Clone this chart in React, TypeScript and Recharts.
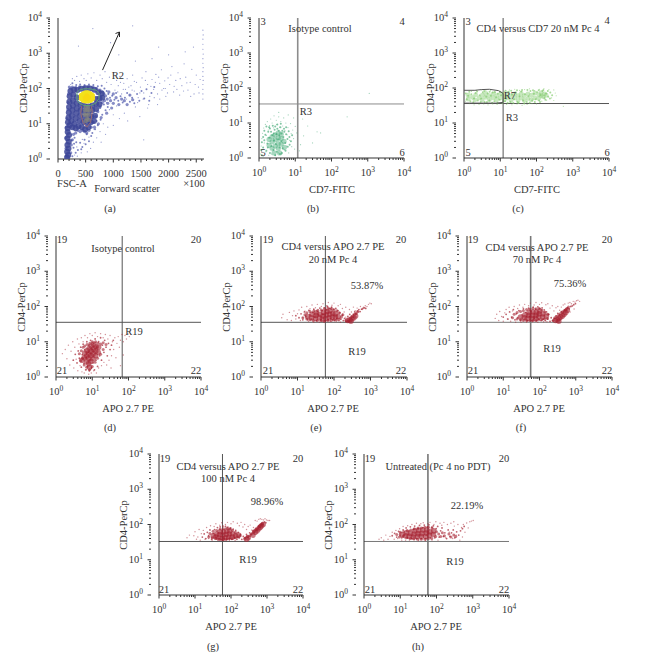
import { ScatterChart, Scatter, XAxis, YAxis, ReferenceLine } from 'recharts';

type Pair = [number, number];
const pts = (list: Pair[]) => list.map(([x, y]) => ({ x, y }));

const LOG_TICKS = [
  1, 2, 3, 4, 5, 6, 7, 8, 9, 10, 20, 30, 40, 50, 60, 70, 80, 90, 100, 200, 300, 400, 500, 600, 700, 800, 900,
  1000, 2000, 3000, 4000, 5000, 6000, 7000, 8000, 9000, 10000,
];
const FSC_TICKS = [0, 100, 200, 300, 400, 500, 600, 700, 800, 900, 1000, 1100, 1200, 1300, 1400, 1500, 1600, 1700, 1800, 1900, 2000, 2100, 2200, 2300, 2400, 2500, 2600];
const FSC_LABELS = [0, 500, 1000, 1500, 2000, 2500];

// (a) forward scatter
const fscLight: Pair[] = [
  [230, 130], [260, 190], [300, 170], [340, 220], [390, 160], [420, 240], [470, 190], [510, 170], [540, 260], [600, 200], [650, 280], [700, 170], [760, 240], [800, 190], [850, 300], [880, 150], [930, 210], [960, 130], [1000, 260], [1030, 90], [1060, 170], [1090, 120], [1120, 220], [1150, 70], [1190, 140], [1220, 95], [1250, 190], [1290, 65], [1320, 120], [1350, 240], [1380, 85], [1420, 150], [1450, 55], [1490, 110], [1520, 200], [1550, 75], [1590, 300], [1620, 130], [1660, 60], [1700, 180], [1730, 95], [1770, 250], [1800, 70], [1840, 140], [1870, 340], [1910, 100], [1950, 60], [1990, 200], [2020, 130], [2060, 420], [2090, 80], [2130, 170], [2170, 280], [2200, 65], [2240, 120], [2280, 500], [2310, 210], [2350, 90], [2390, 150], [2420, 350], [2460, 70], [2500, 240], [2540, 110], [2570, 180],
  [1760, 150], [1820, 210], [1880, 90], [1930, 165], [1980, 75], [2040, 240], [2100, 115], [2150, 95], [2210, 190], [2270, 85], [2330, 145], [2400, 60], [2480, 130], [2550, 75], [1680, 115], [1580, 170], [1480, 75], [1380, 160], [1280, 110], [1180, 95], [1080, 80], [1130, 150], [1240, 50], [1340, 90], [1440, 40], [1540, 50], [1640, 35], [1740, 55], [1840, 50], [1940, 100],
  [2620, 50], [2620, 70], [2620, 95], [2620, 130], [2625, 170], [2620, 220], [2620, 300], [2625, 390], [2620, 520], [2620, 700], [2625, 950], [2620, 1300], [2620, 1800], [2620, 2500], [2625, 3300], [2620, 4500],
  [1700, 700], [1400, 600], [1100, 900], [2000, 900], [2300, 1100], [370, 1600], [630, 5000], [1350, 6000], [1820, 1500], [950, 2000], [2450, 1500],
  [880, 40], [930, 25], [1000, 18], [1060, 32], [1110, 14], [820, 10], [900, 8], [760, 6], [700, 4], [640, 3], [590, 2], [530, 1.6], [470, 2.8], [420, 1.5], [780, 3], [860, 5], [1000, 9], [1200, 20], [1260, 12], [1400, 30], [1480, 16], [1620, 28], [350, 1.2], [560, 4.2], [300, 1.3], [1550, 3.5], [1800, 35], [440, 3.6], [650, 7], [340, 2.2],
];
const fscMid: Pair[] = [
  [260, 140], [330, 125], [400, 130], [480, 125], [560, 130], [640, 125], [720, 115], [790, 120], [840, 100], [880, 85], [910, 70], [940, 55], [980, 62], [1020, 48], [1050, 75], [1090, 45], [1130, 60], [1170, 40], [1210, 55], [1250, 75], [1300, 42], [1340, 55], [1380, 38], [1430, 70], [1470, 45], [1510, 85], [1560, 52], [1600, 95], [1650, 45], [1690, 75], [1740, 110],
  [830, 35], [860, 24], [800, 18], [770, 13], [720, 9], [670, 7], [620, 5.5], [560, 3.2], [500, 2.6], [440, 2.2], [400, 2.9], [360, 1.8], [320, 1.5], [280, 2.1], [260, 1.2], [700, 12], [760, 28], [900, 30], [600, 4.5], [480, 3.5], [520, 5], [330, 3], [300, 4], [290, 2.7], [420, 1.9], [250, 3.4],
];
const fscFringe: Pair[] = [
  [760, 90], [800, 80], [830, 70], [860, 62], [890, 50], [840, 45], [800, 40], [760, 30], [720, 22], [680, 16], [640, 11], [600, 8], [560, 6.5], [520, 5.5], [480, 6], [440, 6.5], [400, 6], [360, 6.5], [320, 5.5], [280, 5], [260, 3.5], [240, 2.5], [230, 1.5], [950, 45], [1000, 38], [1050, 55], [1100, 35], [1000, 70], [920, 80], [1150, 50], [1200, 45], [1250, 35], [900, 38], [1300, 65], [1350, 48], [230, 100], [260, 110], [320, 108], [390, 112], [470, 112], [550, 115], [630, 110], [700, 100], [205, 110], [190, 70], [185, 40], [180, 25], [160, 14], [150, 8], [145, 4], [145, 2], [145, 1.2], [970, 28], [880, 20], [780, 15], [730, 10], [660, 8],
];
const fscBlue: Pair[] = [
  [165, 1.1], [185, 1.3], [165, 1.6], [190, 2], [170, 2.5], [195, 3.1], [170, 3.9], [200, 4.8], [175, 5.8], [175, 7.5], [210, 9], [260, 8], [320, 7.5], [180, 11], [240, 12], [300, 10], [370, 8.5], [430, 8], [490, 7], [550, 8], [190, 15], [250, 17], [320, 14], [390, 12], [460, 11], [530, 11], [590, 11], [650, 12], [195, 21], [260, 24], [330, 20], [400, 17], [470, 15], [540, 15], [600, 16], [670, 17], [200, 30], [270, 33], [340, 27], [410, 24], [480, 22], [550, 22], [620, 24], [690, 26], [205, 42], [270, 46], [340, 38], [410, 34], [480, 32], [550, 31], [620, 33], [690, 37], [750, 36], [210, 60], [275, 66], [340, 56], [690, 50], [750, 52], [800, 55], [225, 85], [290, 92], [350, 90], [420, 98], [500, 102], [580, 100], [660, 92], [730, 78], [790, 72],
];
const fscGate: Pair[] = [
  [340, 60], [345, 78], [385, 90], [470, 98], [580, 98], [690, 90], [745, 72], [740, 52], [680, 38], [590, 33], [470, 33], [385, 38], [345, 48], [340, 60],
];
const fscGrey: Pair[] = [
  [505, 30], [545, 30], [490, 24], [530, 24], [565, 24], [510, 18], [550, 18], [480, 18], [525, 14], [500, 12], [550, 13],
];
const fscGate2: Pair[] = [[430, 32], [410, 20], [450, 11], [520, 8], [590, 11], [620, 22], [600, 32]];
const fscYellow: Pair[] = [
  [430, 52], [430, 62], [465, 47], [465, 57], [465, 69], [500, 46], [500, 55], [500, 65], [500, 73], [540, 46], [540, 55], [540, 65], [540, 73], [580, 47], [580, 58], [580, 69], [615, 52], [615, 62],
];
const fscOrange: Pair[] = [[490, 54], [520, 50], [520, 62], [550, 56]];

// (b) isotype control, CD7
const cd7LightB: Pair[] = [
  [1.1, 1.3], [1.15, 2.2], [1.2, 3.6], [1.25, 5.1], [1.3, 1.1], [1.35, 7.2], [1.4, 2.7], [1.5, 9.1], [1.55, 1.5], [1.6, 4.4], [1.7, 11], [1.8, 6.3], [1.85, 1.2], [1.95, 8.4], [2.1, 13], [2.2, 1.3], [2.3, 10], [2.5, 7.3], [2.6, 16], [2.8, 1.2], [3, 12], [3.1, 9], [3.4, 1.4], [3.5, 15], [3.7, 7.6], [4, 11], [4.2, 1.3], [4.5, 8.2], [4.8, 14], [5, 1.7], [5.2, 6.1], [5.5, 10], [5.8, 2.2], [6, 4.6], [6.3, 7.4], [6.6, 1.4], [7, 3.2], [7.4, 9.6], [7.7, 5], [8, 2.1], [8.5, 6.3], [9, 3.6], [9.6, 1.8], [10, 8], [11, 5.2], [14, 2.4], [17, 4.3], [22, 8.2], [40, 5.6], [50, 5.2], [270, 15], [1100, 70], [16, 13], [9, 14], [6.4, 17], [3.5, 20], [30, 2.7], [13, 1.6],
];
const cd7MidB: Pair[] = [
  [1.3, 2], [1.4, 3.2], [1.5, 4.6], [1.6, 1.6], [1.7, 2.6], [1.8, 5.6], [1.9, 3.8], [2, 1.4], [2, 7], [2.2, 2.2], [2.3, 4.5], [2.4, 8.3], [2.5, 1.7], [2.6, 3.2], [2.7, 6.4], [2.9, 2.5], [3, 4.8], [3.1, 1.5], [3.2, 9], [3.4, 3.4], [3.5, 6], [3.7, 2], [3.9, 7.6], [4.1, 3], [4.2, 5], [4.5, 1.9], [4.7, 4], [4.9, 6.8], [5.3, 2.7], [5.6, 4.8], [6.1, 3.5], [6.6, 5.8], [7, 2.4], [1.2, 1.2], [2.8, 1.2], [3.8, 1.3],
  [1.15, 1.7], [1.2, 2.8], [1.3, 4], [1.4, 6], [1.6, 8], [1.75, 2], [1.9, 7.5], [2.15, 5.6], [2.55, 5], [2.8, 8], [3.2, 6.8], [3.6, 4.4], [4, 9.5], [4.4, 6], [5, 5.6], [5.6, 7.6], [6.2, 2.1], [6.9, 4], [7.6, 3], [8.2, 4.5], [5.4, 1.6], [4.3, 1.4],
];
const cd7CoreB: Pair[] = [
  [1.9, 2.3], [1.9, 3.4], [2.3, 1.9], [2.3, 2.9], [2.3, 4.1], [2.8, 2.2], [2.8, 3.3], [2.8, 4.6], [3.4, 1.9], [3.4, 2.6], [3.4, 3.7], [3.4, 5.2], [4.1, 2.5], [4.1, 3.6], [4.1, 4.8], [4.9, 3], [5, 2], [2.6, 1.4], [3.7, 1.4],
];

// (c) CD4 versus CD7
const cd7LightC: Pair[] = [
  [1.1, 42], [1.2, 72], [1.4, 36], [1.6, 80], [1.9, 33], [2.2, 85], [2.6, 34], [3, 88], [3.5, 35], [4, 84], [4.6, 33], [5.4, 86], [6.2, 35], [7, 80], [8.2, 34], [9.5, 76], [11, 38], [13, 80], [15, 34], [18, 88], [21, 33], [25, 92], [29, 35], [34, 86], [40, 32], [47, 90], [55, 34], [64, 95], [75, 36], [88, 84], [100, 35], [120, 92], [140, 42], [160, 96], [190, 45], [220, 90], [260, 52], [300, 88], [330, 72], [350, 60], [550, 30], [300, 44],
];
const cd7MidC: Pair[] = [
  [1.2, 48], [1.3, 60], [1.5, 42], [1.6, 66], [1.9, 50], [2.1, 72], [2.4, 44], [2.7, 62], [3, 50], [3.3, 75], [3.7, 40], [4.1, 56], [4.5, 70], [5, 44], [5.5, 60], [6.2, 74], [6.9, 42], [7.7, 54], [8.6, 68], [9.6, 46], [10.6, 62], [12, 72], [13.5, 42], [15, 56], [17, 78], [19, 40], [21, 64], [24, 48], [27, 74], [30, 40], [34, 58], [38, 80], [43, 44], [48, 66], [54, 40], [60, 58], [68, 82], [76, 44], [85, 68], [95, 48], [105, 76], [118, 44], [130, 62], [145, 82], [165, 52], [185, 70], [210, 56], [240, 74], [270, 62],
  [1.1, 70], [1.4, 78], [1.8, 39], [2.3, 80], [2.9, 40], [3.6, 82], [4.3, 40], [5.1, 78], [6, 38], [7.2, 76], [8.4, 38], [10, 78], [11.5, 38], [14, 84], [16, 38], [20, 84], [23, 37], [29, 86], [32, 37], [40, 88], [46, 36], [56, 88], [65, 38], [80, 86], [90, 40], [115, 86], [125, 40], [155, 88], [175, 46], [205, 82], [235, 50],
];
const cd7CoreC: Pair[] = [
  [1.3, 48], [1.3, 62], [1.7, 54], [2, 46], [2.1, 64], [2.6, 52], [3.2, 46], [3.2, 62], [4, 54], [4, 70], [5, 46], [5.1, 60], [6.4, 52], [6.4, 68], [8, 46], [8, 60], [10, 52], [10.4, 68], [13, 46], [13, 60], [16, 52], [16, 70], [20, 44], [20, 60], [25, 52], [25, 68], [31, 44], [31, 60], [38, 52], [38, 70], [46, 44], [46, 60], [58, 50], [58, 68], [72, 46], [72, 62], [90, 52], [90, 72], [115, 50], [115, 64], [135, 60], [135, 74], [155, 56], [165, 68], [185, 62],
];
const r7Gate: Pair[] = [
  [1, 37], [3, 37], [8, 37], [12, 39], [12, 70], [9, 84], [5, 92], [3, 90], [2, 86], [1, 86],
];

// (d) isotype control, APO 2.7
const apoLightD: Pair[] = [
  [1.5, 4.6], [1.8, 6], [2, 3.3], [2.2, 8], [2.4, 2.2], [2.6, 5.4], [2.9, 10], [3.1, 1.8], [3.3, 7], [3.6, 3.2], [3.9, 12], [4, 1.5], [4.3, 8.7], [4.6, 2.1], [5, 13], [5.2, 1.4], [5.6, 10], [6, 1.3], [6.3, 15], [6.9, 1.6], [7.4, 13], [8, 1.2], [8.6, 17], [9.4, 1.3], [10, 15], [11, 1.5], [12, 18], [13, 1.3], [14, 14], [15, 1.8], [17, 17], [18, 2.1], [20, 13], [21, 2.6], [23, 16], [25, 2.2], [27, 12], [29, 3], [31, 15], [34, 4], [36, 10], [39, 6], [42, 13], [45, 3.5], [48, 9], [52, 14], [56, 7], [60, 11], [66, 16], [72, 10], [80, 15], [88, 12], [96, 17], [105, 14], [60, 2.1], [33, 1.8], [72, 4.2], [110, 20],
];
const apoMidD: Pair[] = [
  [3, 3], [3.4, 4.4], [3.8, 2.5], [4.1, 5.5], [4.4, 3.4], [4.8, 7], [5, 1.9], [5.3, 4.3], [5.6, 8.5], [5.9, 2.4], [6.2, 6], [6.6, 1.6], [6.8, 3.6], [7.1, 10], [7.4, 2], [7.7, 5], [8, 8], [8.3, 1.5], [8.7, 3], [9, 11], [9.5, 1.8], [10, 6], [10.5, 2.5], [11, 9], [11.5, 1.6], [12, 12], [12.7, 3], [13.4, 7], [14, 2], [15, 10], [16, 4], [17, 13], [18, 3], [19, 8], [21, 5], [22, 11], [24, 7], [26, 4], [28, 9], [31, 6], [34, 8], [38, 11],
];
const apoEdgeD: Pair[] = [
  [4.4, 4.6], [4.8, 2.9], [5, 5.6], [5.4, 3.4], [5.6, 7], [6, 2.2], [6.2, 7.6], [7, 1.9], [7.2, 8.4], [8.4, 1.6], [8.6, 9], [10, 2], [10, 10], [12, 2.6], [12.4, 10], [14, 3.4], [14.4, 9], [17, 4.4], [17, 8.6], [20, 6], [20, 9.4], [24, 8.4],
];
const apoCoreD: Pair[] = [
  [6, 3.5], [6.2, 4.8], [7, 2.7], [7, 3.9], [7.2, 5.6], [8, 2.4], [8, 3.4], [8, 4.6], [8.2, 6.4], [9.2, 2.8], [9.2, 4], [9.2, 5.4], [9.4, 7.5], [10.6, 3.3], [10.6, 4.6], [10.8, 6.2], [11, 8.4], [12.4, 4], [12.4, 5.5], [12.8, 7.2], [14.6, 5], [15, 7], [8.4, 1.9], [5.2, 3],
];

// (e) 20 nM
const apoLightE: Pair[] = [
  [3.7, 48], [4, 60], [5.2, 42], [6, 68], [6.8, 40], [7.3, 55], [8, 75], [9, 44], [10, 62], [11, 80], [12, 40], [13, 95], [14, 48], [16, 74], [18, 100], [20, 38], [22, 86], [25, 110], [28, 36], [31, 92], [35, 115], [40, 36], [45, 100], [50, 120], [56, 37], [63, 105], [70, 130], [78, 38], [88, 108], [100, 125], [115, 38], [130, 105], [150, 115], [170, 88], [190, 70], [210, 95], [235, 38], [265, 82], [300, 70], [340, 96], [380, 76], [430, 90], [480, 70], [530, 100], [590, 82], [650, 95], [720, 105], [800, 100], [880, 115], [960, 125], [1050, 120], [150, 36], [210, 50], [170, 60],
];
const apoMidE: Pair[] = [
  [9, 55], [11, 48], [12.5, 62], [14, 42], [15.5, 70], [17, 52], [19, 42], [20.5, 78], [22, 58], [24, 44], [26, 68], [28, 84], [30, 50], [33, 40], [35, 72], [38, 58], [41, 90], [44, 42], [47, 76], [50, 60], [54, 92], [58, 40], [62, 80], [66, 100], [70, 42], [75, 88], [80, 46], [86, 96], [92, 42], [98, 84], [105, 40], [112, 88], [120, 46], [128, 76], [136, 40], [145, 66], [155, 44], [168, 56], [180, 40], [195, 46], [215, 38], [240, 52], [270, 60], [300, 54], [335, 60], [370, 70], [405, 62], [440, 74], [480, 82], [520, 72], [570, 84], [620, 88], [680, 92], [740, 88],
];
const apoEdgeE: Pair[] = [
  [14, 48], [16, 58], [18, 44], [18, 66], [22, 42], [22, 72], [27, 40], [28, 74], [35, 40], [36, 78], [44, 40], [45, 80], [54, 38], [55, 86], [68, 40], [68, 90], [84, 40], [85, 88], [100, 42], [100, 80], [118, 42], [120, 76], [140, 44], [140, 66], [160, 50], [175, 58], [215, 40], [250, 38], [285, 48], [330, 52], [370, 60], [410, 64], [450, 72],
];
const apoCoreE: Pair[] = [
  [19, 52], [24, 48], [25, 60], [31, 46], [32, 56], [33, 66], [40, 48], [41, 60], [48, 44], [50, 54], [52, 68], [60, 46], [62, 58], [64, 72], [74, 48], [76, 60], [78, 76], [90, 50], [92, 64], [108, 50], [110, 62], [130, 52], [235, 40], [270, 42], [310, 44], [350, 48], [390, 54], [290, 38],
];

// (f) 70 nM
const apoLightF: Pair[] = [
  [6, 46], [6.6, 60], [7.5, 40], [8, 72], [9, 52], [10, 38], [11, 66], [12, 82], [13, 44], [14.5, 95], [16, 38], [18, 75], [20, 100], [22, 36], [25, 88], [28, 110], [31, 36], [35, 95], [39, 115], [44, 36], [50, 105], [56, 125], [63, 37], [71, 110], [80, 130], [90, 36], [100, 115], [115, 128], [130, 37], [150, 112], [170, 120], [195, 90], [225, 105], [250, 75], [285, 92], [320, 100], [360, 78], [400, 96], [450, 110], [500, 118], [560, 85], [620, 125], [690, 130], [760, 120], [850, 140], [950, 135], [1050, 145], [1150, 150], [1280, 140], [700, 70], [900, 85], [160, 37],
];
const apoMidF: Pair[] = [
  [10, 50], [12, 60], [13.5, 44], [15, 70], [17, 50], [19, 82], [21, 42], [23, 62], [25, 48], [27, 76], [30, 40], [33, 58], [36, 86], [39, 44], [42, 68], [46, 40], [50, 90], [54, 52], [58, 74], [62, 40], [67, 96], [72, 46], [78, 84], [84, 40], [90, 98], [96, 44], [103, 88], [110, 40], [118, 92], [126, 44], [135, 80], [145, 40], [156, 70], [168, 44], [180, 60], [195, 38], [210, 48], [230, 40], [255, 46], [285, 54], [320, 64], [360, 58], [400, 72], [440, 64], [490, 80], [540, 76], [600, 92], [660, 86], [730, 100], [800, 104], [880, 112], [980, 120],
];
const apoEdgeF: Pair[] = [
  [18, 48], [20, 60], [24, 44], [24, 68], [30, 42], [30, 72], [36, 40], [36, 76], [44, 40], [44, 82], [54, 40], [54, 84], [66, 40], [66, 88], [80, 40], [80, 86], [96, 42], [96, 88], [116, 42], [116, 80], [138, 44], [140, 70], [165, 46], [170, 60], [240, 40], [265, 48], [300, 52], [340, 58], [385, 64], [430, 70], [470, 74], [520, 80], [570, 88], [630, 96],
];
const apoCoreF: Pair[] = [
  [30, 50], [38, 48], [40, 58], [48, 46], [50, 56], [52, 68], [62, 46], [64, 56], [66, 70], [78, 46], [80, 56], [82, 68], [96, 50], [98, 62], [100, 74], [122, 50], [125, 62], [155, 54], [275, 40], [310, 42], [345, 46], [385, 50], [430, 54], [475, 60], [530, 68], [585, 78], [340, 38],
];

// (g) 100 nM
const apoLightG: Pair[] = [
  [6, 42], [7, 50], [9.3, 48], [10, 62], [11, 38], [12, 44], [13, 72], [14, 36], [15, 55], [17, 68], [19, 38], [21, 82], [24, 40], [27, 92], [30, 36], [34, 88], [38, 105], [43, 36], [49, 95], [55, 112], [62, 35], [70, 100], [80, 115], [90, 35], [100, 105], [115, 120], [130, 35], [150, 108], [170, 92], [190, 115], [215, 85], [240, 100], [270, 72], [300, 88], [340, 96], [380, 70], [420, 82], [470, 130], [530, 125], [590, 140], [650, 145], [720, 140], [800, 135], [880, 145], [970, 135], [1070, 130], [1180, 130], [250, 36], [320, 40],
];
const apoMidG: Pair[] = [
  [16, 44], [18, 54], [20, 40], [22, 60], [24, 48], [26, 70], [29, 38], [32, 56], [35, 72], [38, 42], [42, 82], [46, 40], [50, 86], [55, 38], [60, 90], [65, 40], [70, 88], [76, 38], [82, 84], [90, 40], [98, 80], [106, 38], [115, 74], [125, 42], [135, 68], [146, 38], [158, 60], [170, 42], [185, 52], [200, 38], [220, 46], [245, 42], [270, 52], [300, 44], [330, 58], [360, 52], [400, 66], [440, 60], [480, 78], [530, 70], [580, 90], [640, 84], [700, 102], [770, 98], [850, 118], [930, 112],
];
const apoEdgeG: Pair[] = [
  [24, 44], [26, 56], [30, 42], [32, 64], [38, 40], [40, 68], [48, 38], [50, 74], [60, 38], [62, 76], [74, 38], [76, 78], [90, 40], [92, 76], [108, 40], [110, 68], [130, 42], [132, 60], [155, 44], [180, 48], [240, 40], [285, 46], [330, 48], [370, 54], [420, 60], [450, 68], [500, 70], [560, 80], [620, 90], [680, 98], [750, 108],
];
const apoCoreG: Pair[] = [
  [32, 48], [38, 44], [40, 54], [46, 42], [48, 52], [50, 62], [57, 40], [60, 50], [62, 62], [70, 42], [73, 52], [76, 65], [86, 44], [90, 54], [92, 66], [108, 44], [112, 54], [135, 48], [160, 50], [300, 42], [410, 50], [470, 60], [530, 66], [590, 76], [650, 84], [710, 92], [780, 100], [270, 38],
];

// (h) untreated
const apoLightH: Pair[] = [
  [2.6, 38], [3, 42], [3.5, 36], [4, 50], [4.6, 38], [5.2, 46], [6, 60], [6.8, 38], [7.6, 68], [8.5, 40], [9.6, 76], [11, 36], [12, 88], [14, 36], [16, 92], [18, 36], [21, 100], [24, 36], [28, 108], [32, 35], [37, 105], [43, 112], [50, 35], [58, 105], [66, 115], [75, 36], [85, 100], [96, 120], [110, 36], [125, 108], [140, 95], [160, 115], [180, 42], [200, 100], [225, 60], [250, 108], [280, 40], [310, 90], [350, 50], [390, 100], [440, 36], [490, 82], [550, 100], [610, 60], [680, 110], [750, 80], [830, 120], [920, 125], [1030, 130], [300, 120], [520, 44],
];
const apoMidH: Pair[] = [
  [6, 48], [7, 56], [8, 44], [9, 64], [10, 50], [11, 42], [12, 70], [13, 50], [14.5, 80], [16, 42], [17.5, 66], [19, 86], [21, 40], [23, 72], [25, 90], [28, 40], [31, 76], [34, 94], [38, 40], [42, 82], [46, 96], [51, 40], [56, 86], [62, 98], [68, 42], [75, 84], [82, 92], [90, 42], [98, 76], [108, 88], [118, 44], [130, 66], [142, 80], [155, 46], [170, 58], [190, 40], [210, 70], [235, 46], [260, 58], [290, 70], [320, 42], [360, 62], [410, 50], [460, 66], [520, 76], [580, 88],
];
const apoEdgeH: Pair[] = [
  [8, 52], [9.5, 44], [10, 60], [12, 46], [12.5, 62], [15, 42], [15.5, 68], [19, 40], [19.5, 70], [24, 40], [24.5, 76], [30, 38], [31, 80], [38, 38], [38, 80], [48, 38], [48, 84], [60, 40], [60, 84], [74, 40], [75, 80], [95, 46], [100, 62], [115, 54], [130, 46], [145, 58], [165, 48], [220, 54], [250, 44], [300, 50], [340, 46],
];
const apoCoreH: Pair[] = [
  [11, 52], [14, 48], [15, 58], [18, 46], [19, 56], [23, 44], [24, 54], [25, 66], [30, 46], [31, 55], [32, 68], [38, 46], [40, 56], [42, 70], [50, 46], [52, 57], [54, 70], [64, 50], [66, 62], [82, 52], [84, 66],
];

// quadrant gates
const GATE_B = { x: 11.7, y: 35 };
const GATE_C = { x: 12, y: 36 };
const GATE_D = { x: 67, y: 35.6 };
const GATE_E = { x: 58, y: 35.6 };
const GATE_F = { x: 57, y: 35.6 };
const GATE_GH = { x: 58, y: 33 };

const arrowShaft: Pair[] = [[805, 333], [1112, 4000]];
const arrowBarbs: Pair[][] = [[[1112, 4000], [1040, 3630]], [[1112, 4000], [1112, 2885]]];

type Layer = { data: Pair[]; r: number; color: string; opacity: number };
type Note = [string, number, number];

const GREEN = '#3fa873';
const LEAF = '#86cc70';
const RED = '#a5202e';
const CD4 = 'CD4-PerCp';
const layers = (light: Pair[], mid: Pair[], edge: Pair[], core: Pair[]): Layer[] => [
  { data: light, r: 0.7, color: RED, opacity: 0.5 },
  { data: mid, r: 0.9, color: RED, opacity: 0.7 },
  { data: edge, r: 1.5, color: RED, opacity: 0.6 },
  { data: core, r: 2.8, color: RED, opacity: 0.6 },
];

const STATIC_NOTES: Note[] = [
  ['R2', 118, 76], ['FSC-A', 72, 184], ['Forward scatter', 127, 189], ['×100', 194, 184], ['(a)', 110, 209],
  ['Isotype control', 320, 29], ['3', 263, 22], ['4', 402, 22], ['5', 263, 153], ['6', 402, 153], ['R3', 306, 112], ['CD7-FITC', 332, 190], ['(b)', 313, 209],
  ['CD4 versus CD7 20 nM Pc 4', 538, 29], ['3', 468, 22], ['4', 607, 21], ['5', 468, 153], ['6', 607, 153], ['R7', 510, 96], ['R3', 512, 118], ['CD7-FITC', 537, 190], ['(c)', 518, 209],
  ['19', 62, 240], ['20', 196, 240], ['Isotype control', 123, 249], ['R19', 134, 332], ['21', 62, 371], ['22', 196, 371], ['APO 2.7 PE', 128, 409], ['(d)', 110, 428],
  ['19', 268, 240], ['20', 401, 240], ['CD4 versus APO 2.7 PE', 333, 247], ['20 nM Pc 4', 333, 260], ['53.87%', 367, 286], ['R19', 357, 352], ['21', 268, 371], ['22', 401, 371], ['APO 2.7 PE', 333, 409], ['(e)', 316, 428],
  ['19', 473, 240], ['20', 607, 240], ['CD4 versus APO 2.7 PE', 537, 248], ['70 nM Pc 4', 537, 260], ['75.36%', 570, 284], ['R19', 552, 349], ['21', 473, 371], ['22', 607, 371], ['APO 2.7 PE', 539, 409], ['(f)', 521, 428],
  ['19', 165, 459], ['20', 298, 459], ['CD4 versus APO 2.7 PE', 228, 467], ['100 nM Pc 4', 228, 479], ['98.96%', 267, 502], ['R19', 248, 560], ['21', 164, 590], ['22', 298, 590], ['APO 2.7 PE', 231, 627], ['(g)', 213, 647],
  ['19', 370, 459], ['20', 504, 459], ['Untreated (Pc 4 no PDT)', 438, 467], ['22.19%', 467, 506], ['R19', 455, 562], ['21', 370, 590], ['22', 504, 590], ['APO 2.7 PE', 436, 627], ['(h)', 418, 647],
];
const ROTATED_NOTES: Note[] = [
  [CD4, 24, 88], [CD4, 225, 88], [CD4, 431, 88], [CD4, 22, 307], [CD4, 227, 307], [CD4, 433, 307], [CD4, 124, 525], [CD4, 329, 525],
];

const FONT = '"Liberation Serif", serif';
const INK = '#333';
const PAD_LEFT = 40;
const PAD_TOP = 8;

function PowerTick({ x, y, payload, horizontal }: any) {
  const exp = Math.log10(payload.value);
  const major = Number.isInteger(Math.round(exp * 1e6) / 1e6);
  const len = major ? 3.5 : 2;
  if (horizontal) {
    return (
      <g>
        <line x1={x} x2={x} y1={y - 8} y2={y - 8 + len} stroke={INK} />
        {major && (
          <text x={x} y={y + 10} textAnchor="middle" fontSize={10.5} fill={INK} fontFamily={FONT}>
            10<tspan dy={-4} fontSize={7.5}>{Math.round(exp)}</tspan>
          </text>
        )}
      </g>
    );
  }
  return (
    <g>
      <line x1={x - len} x2={x} y1={y} y2={y} stroke={INK} />
      {major && (
        <text x={x - 8} y={y + 3} textAnchor="end" fontSize={10.5} fill={INK} fontFamily={FONT}>
          10<tspan dy={-4} fontSize={7.5}>{Math.round(exp)}</tspan>
        </text>
      )}
    </g>
  );
}

function FscTick({ x, y, payload }: any) {
  const major = FSC_LABELS.includes(payload.value);
  return (
    <g>
      <line x1={x} x2={x} y1={y - 8} y2={y - 8 + (major ? 3.5 : 2)} stroke={INK} />
      {major && (
        <text x={x} y={y + 10} textAnchor="middle" fontSize={10.5} fill={INK} fontFamily={FONT}>
          {payload.value}
        </text>
      )}
    </g>
  );
}

interface FlowPlotProps {
  left: number;
  top: number;
  width: number;
  height: number;
  layers: Layer[];
  gate?: { x: number; y: number };
  gateColor?: string;
  forward?: boolean;
  outlines?: { data: Pair[]; color: string }[];
}

function FlowPlot({ left, top, width, height, layers, gate, gateColor = '#555', forward, outlines = [] }: FlowPlotProps) {
  return (
    <div style={{ position: 'absolute', left: left - PAD_LEFT, top: top - PAD_TOP }}>
      <ScatterChart
        width={width + PAD_LEFT + 12}
        height={height + PAD_TOP + 30}
        margin={{ top: PAD_TOP, right: 12, left: 0, bottom: 0 }}
      >
        {forward ? (
          <XAxis
            type="number"
            dataKey="x"
            domain={[0, 2640]}
            ticks={FSC_TICKS}
            interval={0}
            height={30}
            allowDataOverflow
            stroke={INK}
            tickLine={false}
            tick={<FscTick />}
          />
        ) : (
          <XAxis
            type="number"
            dataKey="x"
            scale="log"
            domain={[1, 10000]}
            ticks={LOG_TICKS}
            interval={0}
            height={30}
            allowDataOverflow
            stroke={INK}
            tickLine={false}
            tick={<PowerTick horizontal />}
          />
        )}
        <YAxis
          type="number"
          dataKey="y"
          scale="log"
          domain={[1, 10000]}
          ticks={LOG_TICKS}
          interval={0}
          width={PAD_LEFT}
          allowDataOverflow
          stroke={INK}
          tickLine={false}
          tick={<PowerTick />}
        />
        {layers.map((layer, i) => (
          <Scatter
            key={i}
            data={pts(layer.data)}
            isAnimationActive={false}
            shape={(p: any) => <circle cx={p.cx} cy={p.cy} r={layer.r} fill={layer.color} fillOpacity={layer.opacity} />}
          />
        ))}
        {outlines.map((o, i) => (
          <Scatter
            key={`o-${i}`}
            data={pts(o.data)}
            isAnimationActive={false}
            line={{ stroke: o.color, strokeWidth: 1 }}
            shape={() => <g />}
          />
        ))}
        {gate && <ReferenceLine x={gate.x} stroke={gateColor} strokeWidth={gateColor === '#555' ? 1 : 1.6} />}
        {gate && <ReferenceLine y={gate.y} stroke={gateColor} strokeWidth={1} />}
      </ScatterChart>
    </div>
  );
}

const arrowLines = [arrowShaft, ...arrowBarbs].map((data) => ({ data, color: '#222' }));

const PANELS: FlowPlotProps[] = [
  {
    left: 58, top: 18, width: 146, height: 141, forward: true,
    layers: [
      { data: fscLight, r: 0.6, color: '#5560b4', opacity: 0.65 },
      { data: fscMid, r: 1, color: '#4650a8', opacity: 0.7 },
      { data: fscFringe, r: 1.6, color: '#4650a8', opacity: 0.65 },
      { data: fscBlue, r: 3, color: '#3c4597', opacity: 0.85 },
      { data: fscGrey, r: 2.2, color: '#85857c', opacity: 0.7 },
      { data: fscYellow, r: 3, color: '#f2e21c', opacity: 1 },
      { data: fscOrange, r: 2.5, color: '#f8d912', opacity: 1 },
    ],
    outlines: [{ data: fscGate, color: '#5f9f78' }, { data: fscGate2, color: '#9a6a70' }, ...arrowLines],
  },
  {
    left: 259, top: 18, width: 145, height: 140, gate: GATE_B, gateColor: '#8c8c8c',
    layers: [
      { data: cd7LightB, r: 0.6, color: GREEN, opacity: 0.5 },
      { data: cd7MidB, r: 1, color: GREEN, opacity: 0.65 },
      { data: cd7CoreB, r: 2.6, color: GREEN, opacity: 0.45 },
    ],
  },
  {
    left: 464, top: 18, width: 145, height: 140, gate: GATE_C,
    layers: [
      { data: cd7LightC, r: 0.6, color: LEAF, opacity: 0.6 },
      { data: cd7MidC, r: 1, color: LEAF, opacity: 0.7 },
      { data: cd7CoreC, r: 2.4, color: LEAF, opacity: 0.45 },
    ],
    outlines: [{ data: r7Gate, color: '#555' }],
  },
  { left: 56, top: 236, width: 145, height: 141, gate: GATE_D, layers: layers(apoLightD, apoMidD, apoEdgeD, apoCoreD) },
  { left: 261, top: 236, width: 146, height: 141, gate: GATE_E, layers: layers(apoLightE, apoMidE, apoEdgeE, apoCoreE) },
  { left: 467, top: 236, width: 145, height: 141, gate: GATE_F, gateColor: '#777', layers: layers(apoLightF, apoMidF, apoEdgeF, apoCoreF) },
  { left: 159, top: 454, width: 144, height: 141, gate: GATE_GH, layers: layers(apoLightG, apoMidG, apoEdgeG, apoCoreG) },
  { left: 364, top: 454, width: 145, height: 141, gate: GATE_GH, gateColor: '#777', layers: layers(apoLightH, apoMidH, apoEdgeH, apoCoreH) },
];

export default function App() {
  const noteStyle = (x: number, y: number, rotated: boolean) => ({
    position: 'absolute' as const,
    left: x,
    top: y,
    transform: `translate(-50%, -50%)${rotated ? ' rotate(-90deg)' : ''}`,
    whiteSpace: 'nowrap' as const,
    fontFamily: FONT,
    fontSize: 10.5,
    color: INK,
    lineHeight: 1,
  });
  return (
    <div style={{ position: 'absolute', left: 0, top: 0, width: 655, height: 659, background: '#fff', overflow: 'hidden' }}>
      {PANELS.map((panel, i) => (
        <FlowPlot key={i} {...panel} />
      ))}
      {STATIC_NOTES.map(([text, x, y], i) => (
        <span key={i} style={noteStyle(x, y, false)}>{text}</span>
      ))}
      {ROTATED_NOTES.map(([text, x, y], i) => (
        <span key={i} style={noteStyle(x, y, true)}>{text}</span>
      ))}
    </div>
  );
}
